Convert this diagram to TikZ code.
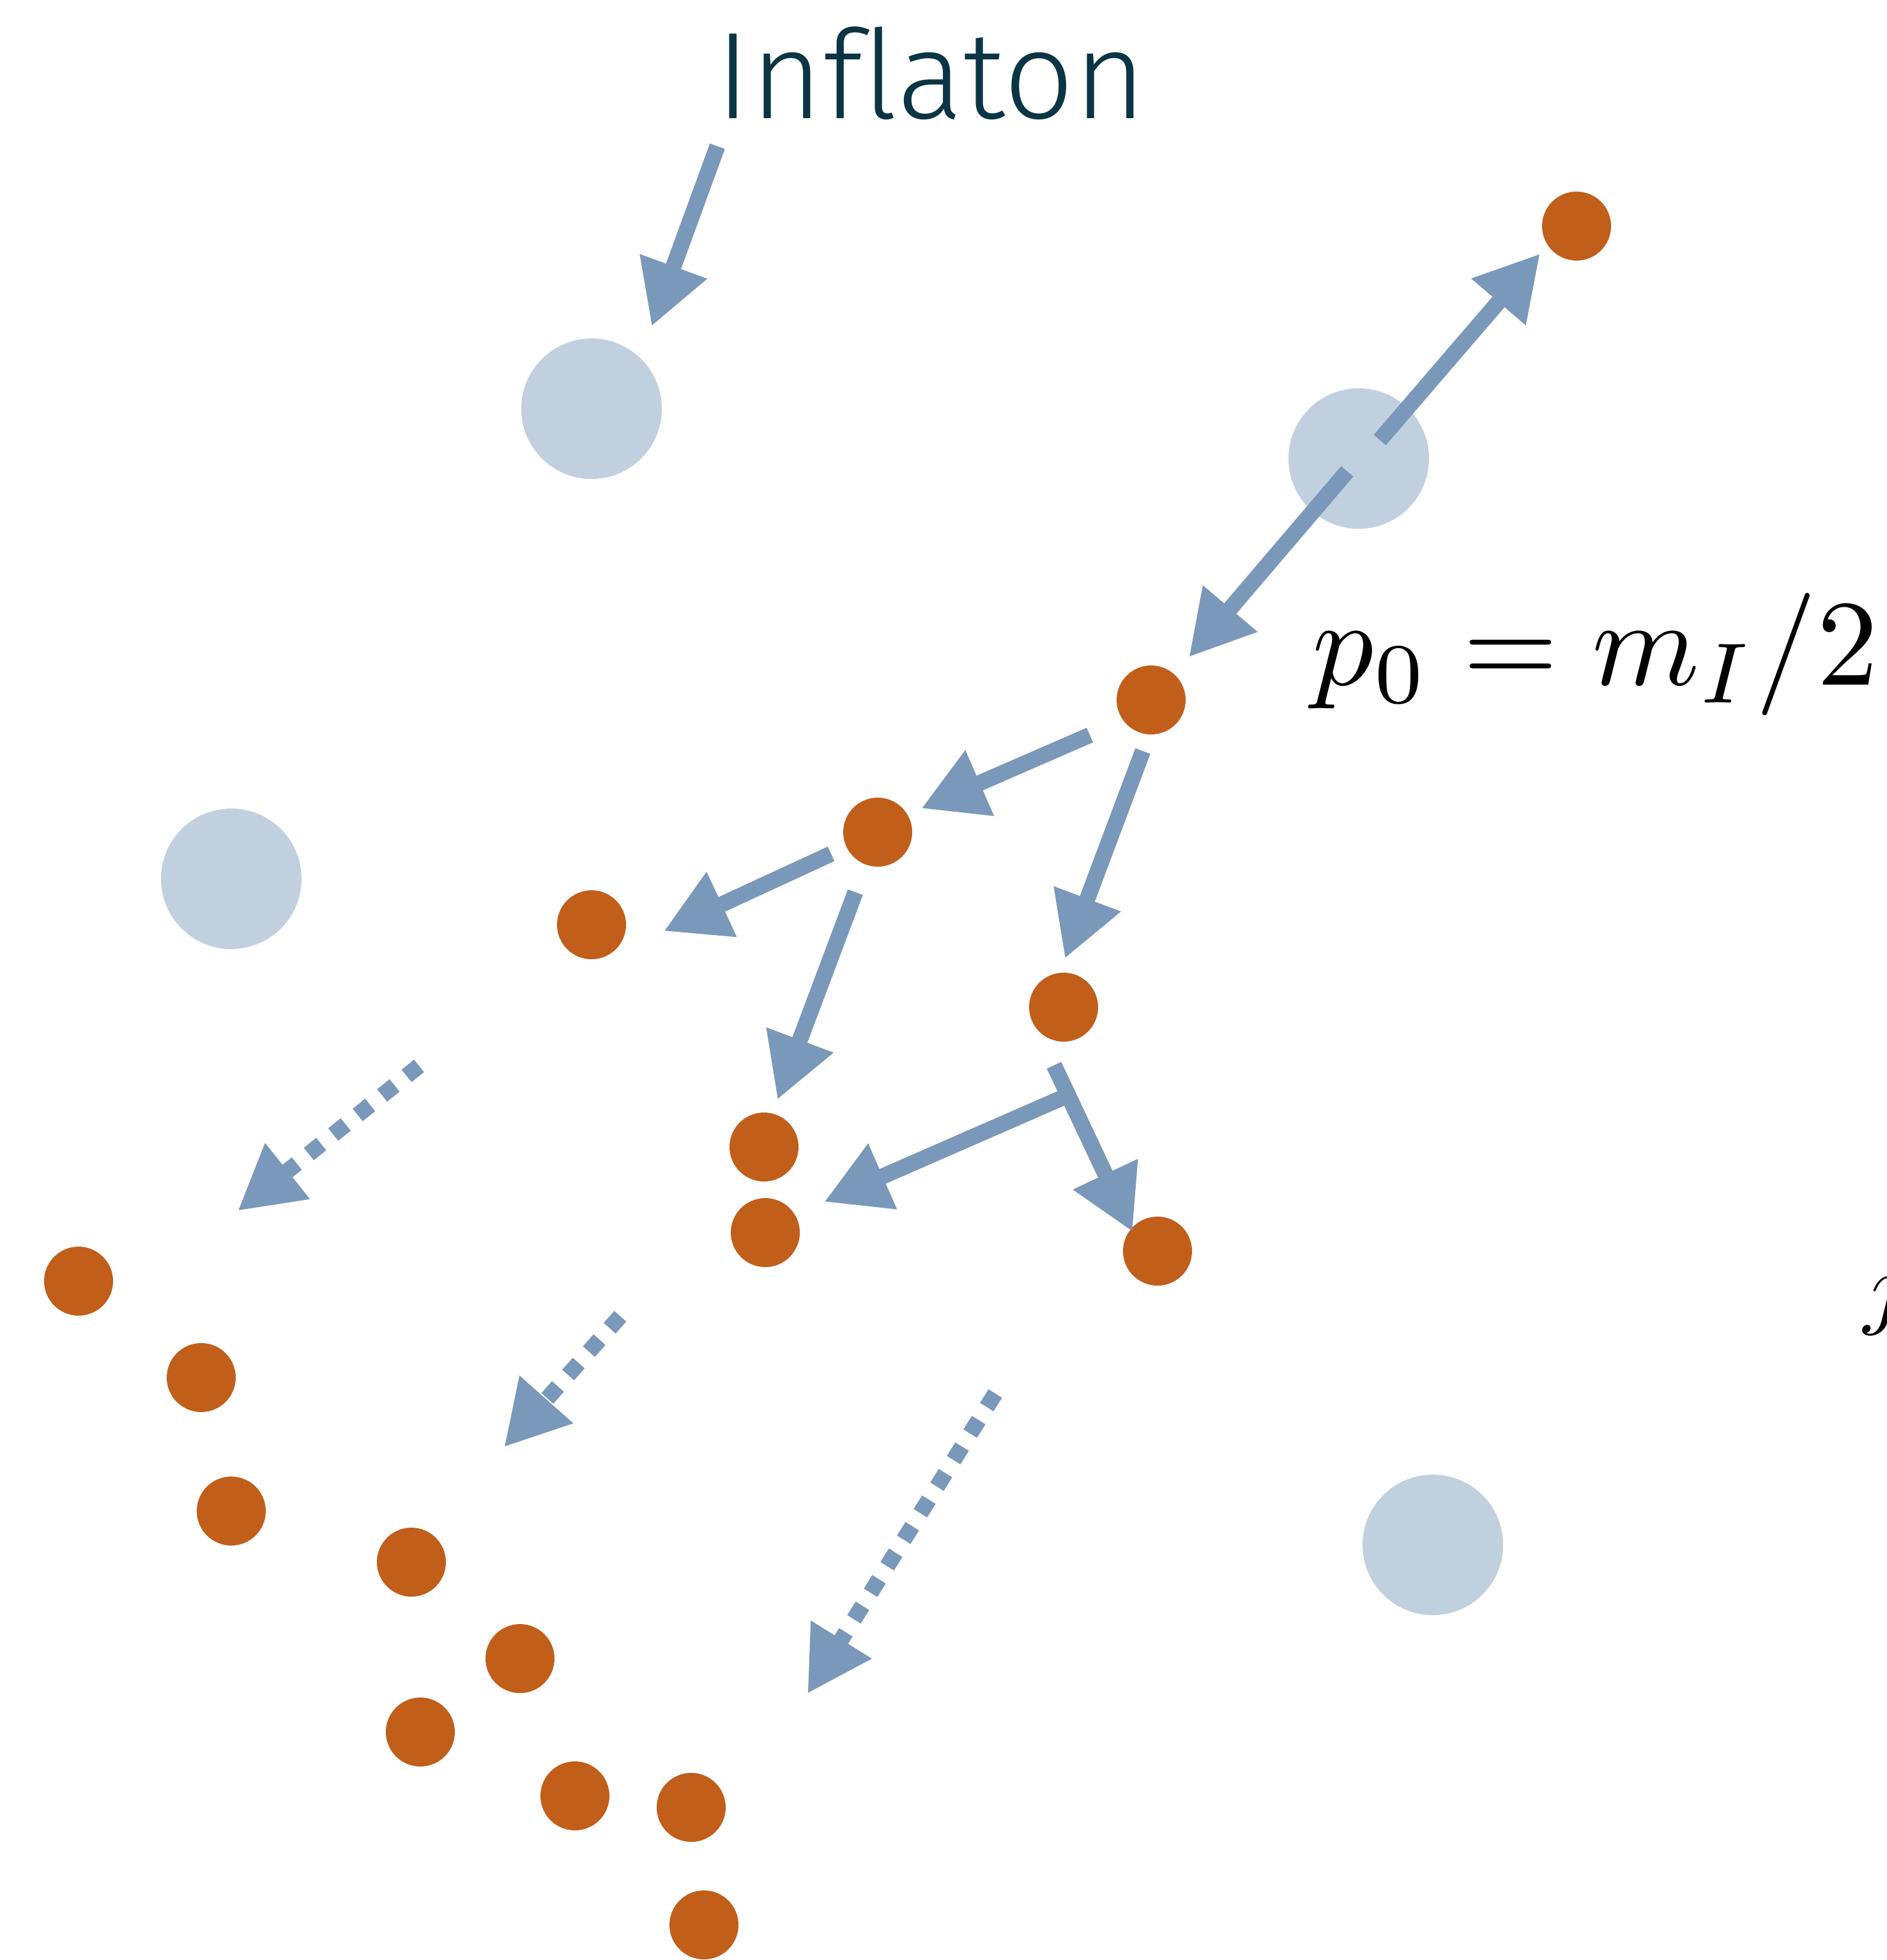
\documentclass[tikz,border=0pt]{standalone}
\usepackage{fontspec}
\newfontfamily\inflfont{Fira Sans Light}[Ligatures=NoCommon]
\usepackage{tikz}
\usetikzlibrary{arrows.meta,calc}

\definecolor{quark}{RGB}{193,94,26}
\definecolor{inflblue}{RGB}{193,208,223}
\definecolor{arrowblue}{RGB}{122,152,186}
\definecolor{labelteal}{RGB}{11,53,69}

\begin{document}
\begin{tikzpicture}[
    dot/.style={circle, fill=quark, inner sep=0pt, minimum size=1.08cm},
    infl/.style={circle, fill=inflblue, inner sep=0pt, minimum size=2.2cm},
    arrow/.style={-{Triangle[length=1cm, width=1.05cm]}, line width=0.25cm, color=arrowblue},
    dasharrow/.style={arrow, dash pattern=on 0.25cm off 0.24cm},
    bigmath/.style={inner sep=0pt, anchor=base west, scale=5.45}
]
\useasboundingbox (0,0) rectangle (29.53,-30.69);

% inflaton quanta
\node[infl] (phi1) at (9.26,-6.40) {};
\node[infl] (phi2) at (21.27,-7.18) {};
\node[infl] (phi3) at (3.62,-13.76) {};
\node[infl] (phi4) at (22.43,-24.19) {};

% decay products
\node[dot] (top) at (24.68,-3.54) {};
\node[dot] (p0) at (18.02,-10.96) {};
\node[dot] (a) at (13.74,-13.03) {};
\node[dot] (b) at (9.26,-14.48) {};
\node[dot] (c) at (16.65,-15.77) {};
\node[dot] (d) at (11.96,-17.96) {};
\node[dot] (e) at (11.98,-19.30) {};
\node[dot] (f) at (18.12,-19.59) {};

% thermalised bath
\node[dot] (g1) at (1.23,-20.06) {};
\node[dot] (g2) at (3.15,-21.57) {};
\node[dot] (g3) at (3.62,-23.66) {};
\node[dot] (g4) at (6.44,-24.46) {};
\node[dot] (g5) at (8.14,-25.97) {};
\node[dot] (g6) at (6.58,-27.12) {};
\node[dot] (g7) at (9.00,-28.12) {};
\node[dot] (g8) at (10.82,-28.30) {};
\node[dot] (g9) at (11.02,-30.14) {};

% labels
\node[inner sep=0pt, anchor=base west, text=labelteal,
      font=\inflfont\fontsize{55}{60}\selectfont] (inflaton) at (11.20,-1.86) {Inflaton};
\node[bigmath] (mom) at (20.51,-10.72) {$p_0 = m_I/2$};
\node[bigmath, scale=4.1/5.45] (jlab) at (29.15,-20.62) {$j$};

% decay of the inflaton
\draw[arrow] ([shift={(0.03,-0.43)}]inflaton.base west) -- ([shift={(0.94,1.29)}]phi1.center);
\draw[arrow] ([shift={(0.33,0.29)}]phi2.center) -- ([shift={(-0.57,-0.43)}]top.center);
\draw[arrow] ([shift={(-0.18,-0.20)}]phi2.center) -- ([shift={(0.59,0.67)}]p0.center);

% splitting cascade
\draw[arrow] ([shift={(-0.96,-0.55)}]p0.center) -- ([shift={(0.68,0.37)}]a.center);
\draw[arrow] ([shift={(-0.13,-0.80)}]p0.center) -- ([shift={(0.02,0.76)}]c.center);
\draw[arrow] ([shift={(-0.73,-0.34)}]a.center) -- ([shift={(1.13,-0.10)}]b.center);
\draw[arrow] ([shift={(-0.35,-0.94)}]a.center) -- ([shift={(0.21,0.74)}]d.center);
\coordinate (cout) at ([shift={(-0.15,-0.91)}]c.center);
\coordinate (fin) at ([shift={(-0.39,0.30)}]f.center);
\coordinate (fork) at ($(cout)!0.18!(fin)$);
\draw[arrow] (fork) -- ([shift={(0.92,0.48)}]e.center);
\draw[arrow] (cout) -- (fin);

% towards the bath
\coordinate (s1) at (6.56,-16.69);
\coordinate (t1) at (3.72,-18.96);
\coordinate (s2) at (9.71,-20.61);
\coordinate (t2) at (7.89,-22.66);
\coordinate (s3) at (15.58,-21.82);
\coordinate (t3) at (12.64,-26.52);
\draw[dasharrow] (s1) -- (t1);
\draw[dasharrow] (s2) -- (t2);
\draw[dasharrow] (s3) -- (t3);
\end{tikzpicture}
\end{document}
